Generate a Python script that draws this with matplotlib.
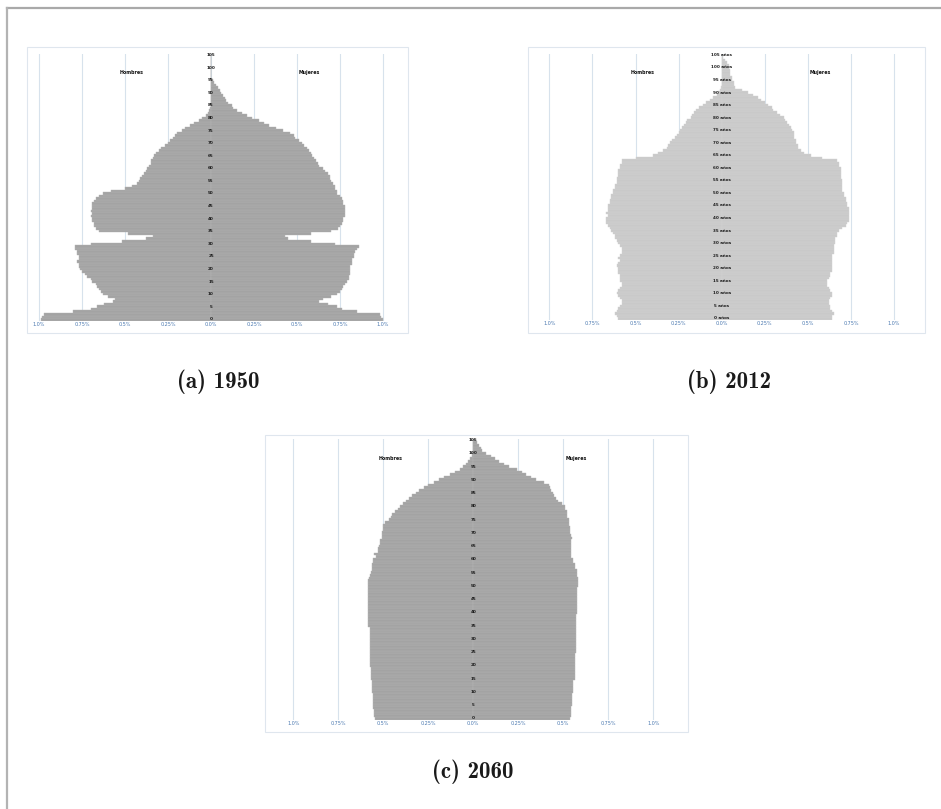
import matplotlib
matplotlib.use("Agg")
import matplotlib.pyplot as plt
from matplotlib.patches import Rectangle
from matplotlib.lines import Line2D
import numpy as np

ages = list(range(0, 106))
age_ticks = list(range(0, 106, 5))
x_ticks = [-1.0, -0.75, -0.5, -0.25, 0.0, 0.25, 0.5, 0.75, 1.0]
x_tick_labels = ["1.0%", "0.75%", "0.5%", "0.25%", "0.0%", "0.25%", "0.5%", "0.75%", "1.0%"]

# 1950
hombres_1950 = [
    0.99, 0.98, 0.97, 0.80, 0.70, 0.66, 0.62, 0.57, 0.56, 0.60,
    0.63, 0.64, 0.65, 0.66, 0.67, 0.69, 0.70, 0.72, 0.73, 0.75,
    0.76, 0.77, 0.77, 0.78, 0.77, 0.77, 0.78, 0.78, 0.79, 0.79,
    0.70, 0.52, 0.38, 0.34, 0.48, 0.65, 0.67, 0.68, 0.68, 0.69,
    0.69, 0.70, 0.69, 0.70, 0.69, 0.69, 0.69, 0.68, 0.67, 0.65,
    0.63, 0.58, 0.50, 0.46, 0.43, 0.42, 0.41, 0.40, 0.39, 0.38,
    0.37, 0.36, 0.35, 0.35, 0.34, 0.33, 0.32, 0.30, 0.29, 0.27,
    0.25, 0.24, 0.22, 0.21, 0.20, 0.17, 0.15, 0.12, 0.10, 0.07,
    0.05, 0.03, 0.02, 0.01, 0.005, 0, 0, 0, 0, 0,
    0, 0, 0, 0, 0, 0, 0, 0, 0, 0,
    0, 0, 0, 0, 0, 0,
]
mujeres_1950 = [
    1.00, 0.99, 0.98, 0.85, 0.76, 0.73, 0.68, 0.63, 0.65, 0.70,
    0.73, 0.75, 0.76, 0.77, 0.78, 0.79, 0.80, 0.80, 0.81, 0.81,
    0.81, 0.81, 0.82, 0.82, 0.82, 0.83, 0.83, 0.84, 0.85, 0.86,
    0.72, 0.58, 0.45, 0.43, 0.58, 0.70, 0.74, 0.75, 0.76, 0.77,
    0.77, 0.78, 0.78, 0.78, 0.78, 0.78, 0.77, 0.77, 0.76, 0.75,
    0.73, 0.73, 0.72, 0.72, 0.71, 0.70, 0.69, 0.69, 0.68, 0.66,
    0.65, 0.63, 0.62, 0.61, 0.60, 0.59, 0.58, 0.57, 0.56, 0.54,
    0.53, 0.51, 0.49, 0.48, 0.46, 0.42, 0.38, 0.34, 0.31, 0.28,
    0.24, 0.21, 0.18, 0.15, 0.13, 0.12, 0.10, 0.09, 0.08, 0.07,
    0.06, 0.05, 0.04, 0.03, 0.02, 0.01, 0, 0, 0, 0,
    0, 0, 0, 0, 0, 0,
]

# 2012
hombres_2012 = [
    0.60, 0.61, 0.62, 0.61, 0.60, 0.59, 0.58, 0.58, 0.59, 0.60,
    0.61, 0.60, 0.59, 0.58, 0.58, 0.59, 0.59, 0.59, 0.60, 0.60,
    0.60, 0.61, 0.60, 0.59, 0.60, 0.59, 0.58, 0.58, 0.58, 0.59,
    0.60, 0.61, 0.62, 0.62, 0.63, 0.64, 0.65, 0.66, 0.67, 0.67,
    0.67, 0.66, 0.67, 0.66, 0.66, 0.66, 0.65, 0.65, 0.64, 0.64,
    0.63, 0.63, 0.62, 0.62, 0.61, 0.61, 0.61, 0.60, 0.60, 0.60,
    0.59, 0.59, 0.58, 0.58, 0.50, 0.40, 0.37, 0.34, 0.32, 0.31,
    0.30, 0.29, 0.27, 0.26, 0.25, 0.24, 0.23, 0.22, 0.21, 0.20,
    0.18, 0.17, 0.16, 0.15, 0.13, 0.11, 0.09, 0.07, 0.05, 0.03,
    0.02, 0.01, 0.005, 0, 0, 0, 0, 0, 0, 0,
    0, 0, 0, 0, 0, 0,
]
mujeres_2012 = [
    0.64, 0.64, 0.65, 0.64, 0.63, 0.63, 0.62, 0.62, 0.63, 0.64,
    0.64, 0.63, 0.62, 0.61, 0.61, 0.61, 0.62, 0.63, 0.63, 0.64,
    0.64, 0.64, 0.64, 0.64, 0.64, 0.64, 0.65, 0.65, 0.65, 0.65,
    0.66, 0.66, 0.66, 0.67, 0.67, 0.68, 0.70, 0.72, 0.73, 0.74,
    0.74, 0.74, 0.74, 0.74, 0.74, 0.73, 0.73, 0.72, 0.72, 0.71,
    0.71, 0.70, 0.70, 0.70, 0.70, 0.70, 0.69, 0.69, 0.69, 0.69,
    0.69, 0.68, 0.68, 0.67, 0.58, 0.52, 0.48, 0.46, 0.44, 0.44,
    0.43, 0.43, 0.42, 0.42, 0.42, 0.41, 0.40, 0.39, 0.38, 0.37,
    0.36, 0.34, 0.32, 0.30, 0.29, 0.27, 0.25, 0.23, 0.21, 0.18,
    0.15, 0.12, 0.08, 0.07, 0.07, 0.06, 0.06, 0.05, 0.05, 0.05,
    0.04, 0.04, 0.03, 0.02, 0.01, 0,
]

# 2060
hombres_2060 = [
    0.546, 0.55, 0.55, 0.55, 0.555, 0.56, 0.56, 0.56, 0.56, 0.56,
    0.565, 0.565, 0.565, 0.565, 0.565, 0.57, 0.57, 0.57, 0.57, 0.57,
    0.575, 0.575, 0.575, 0.575, 0.575, 0.575, 0.575, 0.575, 0.575, 0.575,
    0.575, 0.575, 0.575, 0.575, 0.575, 0.583, 0.583, 0.583, 0.583, 0.583,
    0.583, 0.583, 0.583, 0.583, 0.583, 0.583, 0.583, 0.583, 0.583, 0.583,
    0.583, 0.583, 0.583, 0.58, 0.575, 0.57, 0.565, 0.565, 0.565, 0.56,
    0.555, 0.54, 0.55, 0.53, 0.53, 0.525, 0.52, 0.52, 0.51, 0.51,
    0.505, 0.50, 0.50, 0.50, 0.49, 0.47, 0.46, 0.45, 0.435, 0.42,
    0.41, 0.39, 0.375, 0.36, 0.34, 0.32, 0.30, 0.275, 0.25, 0.22,
    0.19, 0.165, 0.13, 0.10, 0.075, 0.055, 0.04, 0.03, 0.02, 0.01,
    0.005, 0, 0, 0, 0, 0,
]
mujeres_2060 = [
    0.537, 0.54, 0.54, 0.54, 0.54, 0.55, 0.55, 0.55, 0.55, 0.55,
    0.555, 0.555, 0.555, 0.555, 0.555, 0.565, 0.565, 0.565, 0.565, 0.565,
    0.565, 0.565, 0.565, 0.565, 0.565, 0.57, 0.57, 0.57, 0.57, 0.57,
    0.57, 0.57, 0.57, 0.57, 0.57, 0.57, 0.57, 0.57, 0.57, 0.57,
    0.575, 0.575, 0.575, 0.575, 0.575, 0.575, 0.575, 0.575, 0.575, 0.575,
    0.583, 0.58, 0.58, 0.58, 0.575, 0.575, 0.575, 0.565, 0.565, 0.555,
    0.555, 0.545, 0.545, 0.545, 0.545, 0.545, 0.545, 0.545, 0.55, 0.54,
    0.537, 0.537, 0.537, 0.53, 0.53, 0.53, 0.52, 0.52, 0.52, 0.51,
    0.51, 0.49, 0.47, 0.46, 0.45, 0.44, 0.43, 0.425, 0.42, 0.39,
    0.35, 0.32, 0.29, 0.27, 0.24, 0.20, 0.17, 0.14, 0.12, 0.10,
    0.07, 0.05, 0.04, 0.03, 0.02, 0.01,
]

W, H = 941, 809
fig = plt.figure(figsize=(W / 100, H / 100), dpi=100)
fig.patch.set_facecolor("white")

# page frame (top and left edges of the scan)
fig.add_artist(Line2D([7 / W, 1], [1 - 8 / H, 1 - 8 / H], transform=fig.transFigure,
                      color="#a9a9a9", lw=1.6))
fig.add_artist(Line2D([7 / W, 7 / W], [0, 1 - 8 / H], transform=fig.transFigure,
                      color="#b3b3b3", lw=1.6))


def pyramid(chart_box, center, scale, age0, year_px, plot_lr, men, women,
            bar_color, edge_color, age_fmt, caption, caption_xy):
    # chart area border
    l, t, r, b = chart_box
    fig.add_artist(Rectangle((l / W, 1 - b / H), (r - l) / W, (b - t) / H,
                             transform=fig.transFigure, fill=False,
                             edgecolor="#dfe6ee", lw=0.8))
    # plot area
    pl, pr = plot_lr
    y_bot = age0 + 0.5 * year_px
    y_top = age0 - 105.5 * year_px
    ax = fig.add_axes([pl / W, 1 - y_bot / H, (pr - pl) / W, (y_bot - y_top) / H])
    ax.set_xlim((pl - center) / scale, (pr - center) / scale)
    ax.set_ylim(-0.5, 105.5)
    ax.patch.set_alpha(0)

    ax.barh(ages, -np.array(men), height=1.0, color=bar_color,
            edgecolor=edge_color, linewidth=0.3, zorder=2)
    ax.barh(ages, women, height=1.0, color=bar_color,
            edgecolor=edge_color, linewidth=0.3, zorder=2)

    ax.set_xticks(x_ticks)
    ax.set_xticklabels(x_tick_labels, fontsize=3.5, color="#4a78b0")
    ax.set_yticks([])
    ax.tick_params(axis="x", length=0, pad=1)
    ax.grid(axis="x", color="#d7e2ec", lw=0.8, zorder=0)
    for s in ax.spines.values():
        s.set_visible(False)

    for a in age_ticks:
        ax.text(0, a, age_fmt.format(a), ha="center", va="center",
                fontsize=3.0, color="#1c1c1c", fontweight="bold", zorder=3)
    ax.text(-0.46, 98, "Hombres", ha="center", va="center", fontsize=3.4,
            color="#111111", fontweight="bold")
    ax.text(0.57, 98, "Mujeres", ha="center", va="center", fontsize=3.4,
            color="#111111", fontweight="bold")

    fig.text(caption_xy[0] / W, 1 - caption_xy[1] / H, caption,
             ha="center", va="center", fontsize=16.5,
             family=["cmb10", "DejaVu Serif"], color="#1a1a1a")


pyramid((27, 47, 408, 333), 211, 172, 319.3, 2.517, (30, 400),
        hombres_1950, mujeres_1950, "#a3a3a3", "#b4b4b4", "{}",
        "(a) 1950", (218, 382))
pyramid((528, 47, 925, 333), 721.7, 172.3, 318.3, 2.508, (533, 915),
        hombres_2012, mujeres_2012, "#c9c9c9", "#d3d3d3", "{} años",
        "(b) 2012", (729, 382))
pyramid((265, 435, 688, 732), 473.3, 180, 718.3, 2.65, (268, 683),
        hombres_2060, mujeres_2060, "#a3a3a3", "#b4b4b4", "{}",
        "(c) 2060", (473, 772))

fig.savefig("out.png", dpi=100)
